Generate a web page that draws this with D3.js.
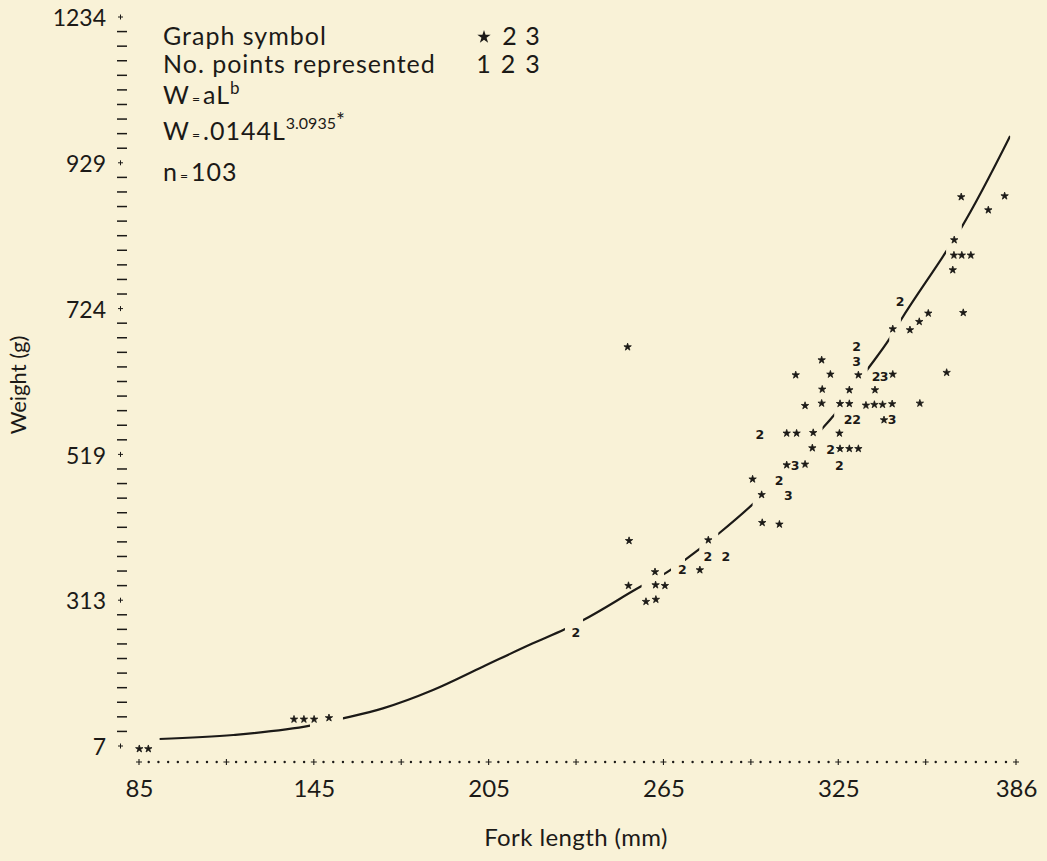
<!DOCTYPE html>
<html>
<head>
<meta charset="utf-8">
<script src="https://cdn.jsdelivr.net/npm/d3@7"></script>
<style>
  html, body { margin: 0; padding: 0; background: #f9f2d7; }
  svg { display: block; }
  text { font-family: Lato, "Noto Sans", sans-serif; fill: #1c1a17; }
</style>
</head>
<body>
<svg id="chart" width="1047" height="861"></svg>
<script>
// ---------------- DATA ----------------
// Y tick labels (as printed, equally spaced on the original plot)
const yTickValues = [7, 313, 519, 724, 929, 1234];
// X tick labels and the "+" positions of the dotted axis
const xTickValues = [85, 145, 205, 265, 325, 386];
const xPlusValues = [85, 115, 145, 175, 205, 235, 265, 295, 325, 355, 386];

// single fish (graph symbol *): fork length (mm), weight (g)
const singleL = [85.1, 88.2, 138.2, 141.6, 145.1, 150.2, 252.7, 253.2, 253.0, 262.1,
  262.3, 265.5, 259.0, 262.4, 277.5, 280.4, 295.6, 298.7, 298.9, 304.8,
  307.3, 313.6, 307.3, 310.7, 316.4, 325.4, 316.1, 325.6, 328.8, 331.9,
  313.6, 319.3, 325.6, 328.8, 334.5, 337.4, 340.2, 343.5, 353.0, 340.7,
  319.5, 328.8, 337.6, 310.4, 322.3, 331.9, 343.7, 319.3, 362.2, 343.7,
  349.6, 352.8, 355.9, 367.9, 364.3, 364.7, 367.4, 370.5, 364.8, 367.2,
  376.5, 382.1];
const singleW = [1, 1, 63, 63, 63, 66, 670, 397, 333.5, 353,
  334.5, 333.5, 310, 314, 355.7, 398, 484, 462, 422.5, 420.2,
  504, 505, 548.7, 548.7, 549.5, 548.7, 528, 527, 527, 527,
  587.5, 590.8, 590.3, 590.3, 588, 589, 589, 590, 590.8, 567.4,
  610.5, 609.6, 609.6, 630.6, 631.6, 630.6, 631.6, 651.7, 634, 695.3,
  694, 705.6, 717.4, 718.2, 778.3, 799, 799, 799, 820.5, 881,
  862.6, 882.3];

// two fish at one position (graph symbol 2)
const doubleL = [234.9, 271.5, 280.2, 286.4, 304.7, 298.1, 322.4, 325.4, 328.4, 331.3, 338.0, 331.3, 346.2];
const doubleW = [244.8, 355.7, 374.5, 375, 482, 546.7, 526, 504, 567.4, 567.4, 629, 670.4, 733.7];

// three fish at one position (graph symbol 3)
const tripleL = [307.9, 310.2, 343.5, 340.7, 331.3];
const tripleW = [461.6, 504, 567.4, 629, 650.3];

// fitted curve W = aL^b
const curveL = [92, 117.4, 143.7, 155, 168.7, 185.9, 203, 220.2, 231.1, 237.5, 257.5, 266,
  272.4, 277.3, 283.8, 295.6, 319.6, 323.6, 335.1, 342.5, 346.5, 362, 367.4, 384];
const curveW = [21.7, 30.1, 49.6, 65, 86, 124.5, 173.4, 222.5, 252, 271.5, 333, 352,
  370, 385, 406.5, 448.5, 555.7, 574.4, 639, 681, 708, 804, 839, 985];
// the printed curve is broken where symbols sit on it: visible stretches (mm)
const curveVisibleFrom = [92, 155, 237.4, 265.2, 272.4, 283.8, 319.6, 335.1, 346.5, 367.4];
const curveVisibleTo   = [143.7, 231.2, 257.5, 267.6, 277.3, 295.6, 323.6, 342.5, 362, 384];

// legend
const legendSymbols = ["2", "3"];
const legendCounts = ["1", "2", "3"];

// ---------------- CHART ----------------
const svg = d3.select("#chart");
const ink = "#1c1a17";

const x = d3.scaleLinear().domain([85, 386]).range([139, 1016]);
const yStep = 145.8;
const y = d3.scaleLinear()
  .domain(yTickValues)
  .range(yTickValues.map((d, i) => 746 - i * yStep));

// ----- Y axis (labels via d3 axis) -----
const yAxis = d3.axisLeft(y).tickValues(yTickValues).tickSize(0).tickPadding(0)
  .tickFormat(d3.format("d"));
const gy = svg.append("g").attr("transform", "translate(106,0)").call(yAxis);
gy.select(".domain").remove();
gy.selectAll("text").style("font-size", "23px").style("font-family", "Lato, 'Noto Sans', sans-serif")
  .attr("fill", ink).attr("dy", "0.38em");

// minor dashes: 10 per labelled interval
const minor = [];
for (let i = 0; i < yTickValues.length - 1; i++) {
  const interp = d3.interpolateNumber(yTickValues[i], yTickValues[i + 1]);
  for (let k = 1; k < 10; k++) minor.push(interp(k / 10));
}
svg.append("g").selectAll("line").data(minor).join("line")
  .attr("x1", 117).attr("x2", 127)
  .attr("y1", d => y(d)).attr("y2", d => y(d))
  .attr("stroke", ink).attr("stroke-width", 1.5);
svg.append("g").selectAll("path").data(yTickValues).join("path")
  .attr("d", d => `M${118},${y(d)}h5M${120.5},${y(d) - 2.5}v5`)
  .attr("stroke", ink).attr("stroke-width", 1);

// ----- X axis (dotted line with + marks) -----
const axisY = 762;
const dots = [];
for (let i = 0; i < xPlusValues.length - 1; i++) {
  const interp = d3.interpolateNumber(xPlusValues[i], xPlusValues[i + 1]);
  for (let k = 1; k < 9; k++) dots.push(interp(k / 9));
}
svg.append("g").selectAll("circle").data(dots).join("circle")
  .attr("cx", d => x(d)).attr("cy", axisY).attr("r", 1.2).attr("fill", ink);
svg.append("g").selectAll("path").data(xPlusValues).join("path")
  .attr("d", d => `M${x(d) - 3},${axisY}h6M${x(d)},${axisY - 3}v6`)
  .attr("stroke", ink).attr("stroke-width", 1.1);

const xAxis = d3.axisBottom(x).tickValues(xTickValues).tickSize(0).tickPadding(0)
  .tickFormat(d3.format("d"));
const gx = svg.append("g").attr("transform", `translate(0,${axisY})`).call(xAxis);
gx.select(".domain").remove();
gx.selectAll("text").style("font-size", "24px").style("font-family", "Lato, 'Noto Sans', sans-serif")
  .attr("fill", ink).attr("y", 35).attr("dy", 0);

// axis titles
svg.append("text").attr("x", 576).attr("y", 846).attr("text-anchor", "middle")
  .style("font-size", "24px").style("letter-spacing", "0.4px").text("Fork length (mm)");
svg.append("text").attr("transform", "translate(26,385) rotate(-90)").attr("text-anchor", "middle")
  .style("font-size", "22px").text("Weight (g)");

// ----- curve -----
const curvePts = curveL.map((L, i) => [L, curveW[i]]);
const line = d3.line().x(d => x(d[0])).y(d => y(d[1])).curve(d3.curveMonotoneX);
const defs = svg.append("defs");
const clip = defs.append("clipPath").attr("id", "curveclip");
clip.selectAll("rect").data(curveVisibleFrom).join("rect")
  .attr("x", (d, i) => x(d)).attr("width", (d, i) => x(curveVisibleTo[i]) - x(d))
  .attr("y", 0).attr("height", 861);
svg.append("path").datum(curvePts).attr("d", line)
  .attr("fill", "none").attr("stroke", ink).attr("stroke-width", 2.2)
  .attr("clip-path", "url(#curveclip)");

// ----- points -----
const star = d3.symbol().type(d3.symbolStar).size(17);
svg.append("g").selectAll("path").data(singleL.map((L, i) => [L, singleW[i]])).join("path")
  .attr("d", star).attr("transform", d => `translate(${x(d[0])},${y(d[1])})`)
  .attr("fill", ink).attr("stroke", ink).attr("stroke-width", 0.8).attr("stroke-linejoin", "round");

function numberMarks(Ls, Ws, label) {
  svg.append("g").selectAll("text").data(Ls.map((L, i) => [L, Ws[i]])).join("text")
    .attr("x", d => x(d[0])).attr("y", d => y(d[1])).attr("dy", "0.36em")
    .attr("text-anchor", "middle")
    .style("font-family", "'DejaVu Sans', sans-serif").style("font-weight", "bold")
    .style("font-size", "12.5px").text(label);
}
numberMarks(doubleL, doubleW, "2");
numberMarks(tripleL, tripleW, "3");

// ----- legend -----
const lg = svg.append("g").style("font-size", "25px").style("letter-spacing", "1px");
lg.append("text").attr("x", 163).attr("y", 45).text("Graph symbol");
lg.append("text").attr("x", 163).attr("y", 73).text("No. points represented");
const t3 = lg.append("text").attr("x", 163).attr("y", 104);
t3.append("tspan").text("W");
t3.append("tspan").style("font-size", "14px").attr("dx", 2).text("=");
t3.append("tspan").attr("dx", 2).text("aL");
t3.append("tspan").style("font-size", "17px").attr("dy", -10).text("b");
const t4 = lg.append("text").attr("x", 163).attr("y", 140);
t4.append("tspan").text("W");
t4.append("tspan").style("font-size", "14px").attr("dx", 2).text("=");
t4.append("tspan").attr("dx", 2).text(".0144L");
t4.append("tspan").style("font-size", "16px").style("letter-spacing", "0px").attr("dy", -11).text("3.0935");
t4.append("tspan").style("font-size", "21px").attr("dy", -1).text("*");
const t5 = lg.append("text").attr("x", 163).attr("y", 181);
t5.append("tspan").text("n");
t5.append("tspan").style("font-size", "14px").attr("dx", 2).text("=");
t5.append("tspan").attr("dx", 2).text("103");

// legend symbols
lg.append("path").attr("d", d3.symbol().type(d3.symbolStar).size(55))
  .attr("transform", "translate(484,37)").attr("fill", ink);
lg.append("g").selectAll("text").data(legendSymbols).join("text")
  .attr("x", (d, i) => 510 + i * 23).attr("y", 45).attr("text-anchor", "middle").text(d => d);
lg.append("g").selectAll("text").data(legendCounts).join("text")
  .attr("x", (d, i) => 484 + i * 24.5).attr("y", 73).attr("text-anchor", "middle").text(d => d);
</script>
</body>
</html>
